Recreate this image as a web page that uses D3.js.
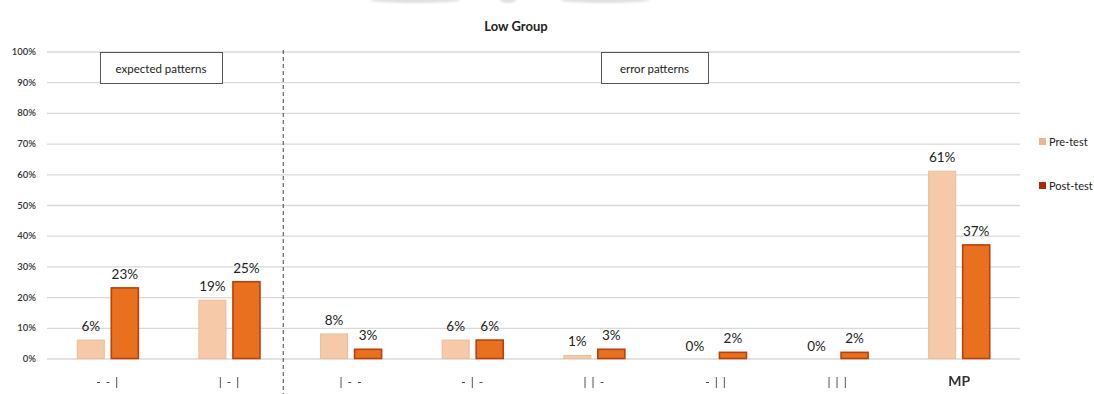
<!DOCTYPE html>
<html>
<head>
<meta charset="utf-8">
<script src="https://cdn.jsdelivr.net/npm/d3@7"></script>
<style>
  html, body { margin: 0; padding: 0; background: #fff; }
  svg { display: block; font-family: Lato, "Open Sans", sans-serif; }
</style>
</head>
<body>
<svg id="chart" width="1094" height="394"></svg>
<script>
// Response patterns and the share of answers for each test
const categories = ["- - |", "| - |", "| - -", "- | -", "| | -", "- | |", "| | |", "MP"];
const series = ["Pre-test", "Post-test"];
const preTest = [6, 19, 8, 6, 1, 0, 0, 61];
const postTest = [23, 25, 3, 6, 3, 2, 2, 37];
const yTicks = [0, 10, 20, 30, 40, 50, 60, 70, 80, 90, 100];
const title = "Low Group";
const groupLabels = ["expected patterns", "error patterns"];

const svg = d3.select("#chart");
const m = { left: 47, right: 1020, top: 51.5, bottom: 358.5 };

const x0 = d3.scaleBand().domain(categories).range([m.left, m.right]).padding(0);
const x1 = d3.scaleBand().domain(series).range([0, x0.bandwidth()])
  .paddingInner(0.206).paddingOuter(0.89);
const y = d3.scaleLinear().domain([0, 100]).range([m.bottom, m.top]);

const fills = { "Pre-test": "#F6C9A9", "Post-test": "#E8701F" };
const strokes = { "Pre-test": "#EDBB9A", "Post-test": "#B8410D" };
const legendFills = { "Pre-test": "#E9B797", "Post-test": "#A8290A" };

// faint smudge along the top edge
const defs = svg.append("defs");
defs.append("filter").attr("id", "soft").append("feGaussianBlur").attr("stdDeviation", 1.2);
const smudge = svg.append("g").attr("opacity", 0.3);
[[415, 90], [508, 16], [605, 90]].forEach(([cx, w]) => {
  smudge.append("ellipse").attr("cx", cx).attr("cy", 0).attr("rx", w / 2).attr("ry", 3)
    .attr("fill", "#999").attr("filter", "url(#soft)");
});

// title
svg.append("text").attr("x", 516).attr("y", 31).attr("text-anchor", "middle")
  .attr("font-size", 13).attr("font-weight", 700).attr("fill", "#222").text(title);

// gridlines and y labels
const yAxis = d3.axisLeft(y).tickValues(yTicks).tickSize(-(m.right - m.left))
  .tickFormat(d => d + "%");
const ga = svg.append("g").attr("transform", `translate(${m.left},0)`).call(yAxis);
ga.select(".domain").remove();
ga.selectAll(".tick line").attr("stroke", "#d9d9d9").attr("stroke-width", 1.3);
ga.selectAll(".tick text").attr("x", -11).attr("font-size", 9.5)
  .attr("font-family", "Lato, sans-serif").attr("font-weight", 600).attr("fill", "#333");

// x labels
const xAxis = d3.axisBottom(x0).tickSize(0).tickPadding(0);
const gx = svg.append("g").attr("transform", `translate(0,${m.bottom})`)
  .attr("opacity", 0.999).call(xAxis);
gx.select(".domain").remove();
gx.selectAll(".tick text").attr("y", 27).attr("dy", 0)
  .attr("font-family", "Lato, sans-serif").attr("fill", "#333")
  .attr("font-size", d => d === "MP" ? 14 : 12)
  .attr("font-weight", d => d === "MP" ? 700 : 400)
  .attr("letter-spacing", d => d === "MP" ? 0 : 1);

// bars
const rows = categories.map((c, i) => ({ cat: c, values: [
  { key: "Pre-test", v: preTest[i] }, { key: "Post-test", v: postTest[i] }] }));

const groups = svg.append("g").selectAll("g").data(rows).join("g")
  .attr("transform", d => `translate(${x0(d.cat)},0)`);

groups.selectAll("rect").data(d => d.values.filter(e => e.v > 0)).join("rect")
  .attr("x", d => x1(d.key))
  .attr("y", d => y(d.v))
  .attr("width", x1.bandwidth())
  .attr("height", d => y(0) - y(d.v))
  .attr("fill", d => fills[d.key])
  .attr("stroke", d => strokes[d.key])
  .attr("stroke-width", d => d.key === "Post-test" ? 1.6 : 1);

groups.selectAll("text").data(d => d.values).join("text")
  .attr("x", d => x1(d.key) + x1.bandwidth() / 2 + (d.v === 0 ? -4 : 0))
  .attr("y", d => y(d.v) - (d.v === 0 ? 8 : 9))
  .attr("text-anchor", "middle")
  .attr("font-size", 13.5).attr("fill", "#222")
  .text(d => d.v + "%");

// divider between expected and error patterns
const divX = x0(categories[2]) - 7;
svg.append("line").attr("x1", divX).attr("x2", divX).attr("y1", 50).attr("y2", 394)
  .attr("stroke", "#444").attr("stroke-width", 1).attr("stroke-dasharray", "4,3");

// group captions
const boxes = [{ x: 100, w: 122, t: groupLabels[0] }, { x: 601, w: 107, t: groupLabels[1] }];
boxes.forEach(b => {
  svg.append("rect").attr("x", b.x + 0.5).attr("y", 52.5).attr("width", b.w).attr("height", 31)
    .attr("fill", "#fff").attr("stroke", "#555").attr("stroke-width", 1);
  svg.append("text").attr("x", b.x + b.w / 2).attr("y", 72.5).attr("text-anchor", "middle")
    .attr("font-size", 11.5).attr("fill", "#222").text(b.t);
});

// legend
const lg = svg.append("g");
series.forEach((s, i) => {
  const ly = 142 + i * 44;
  lg.append("rect").attr("x", 1039).attr("y", ly - 4).attr("width", 7).attr("height", 7)
    .attr("fill", legendFills[s]);
  lg.append("text").attr("x", 1049).attr("y", ly + 3.5).attr("font-size", 11)
    .attr("fill", "#222").text(s);
});
</script>
</body>
</html>
